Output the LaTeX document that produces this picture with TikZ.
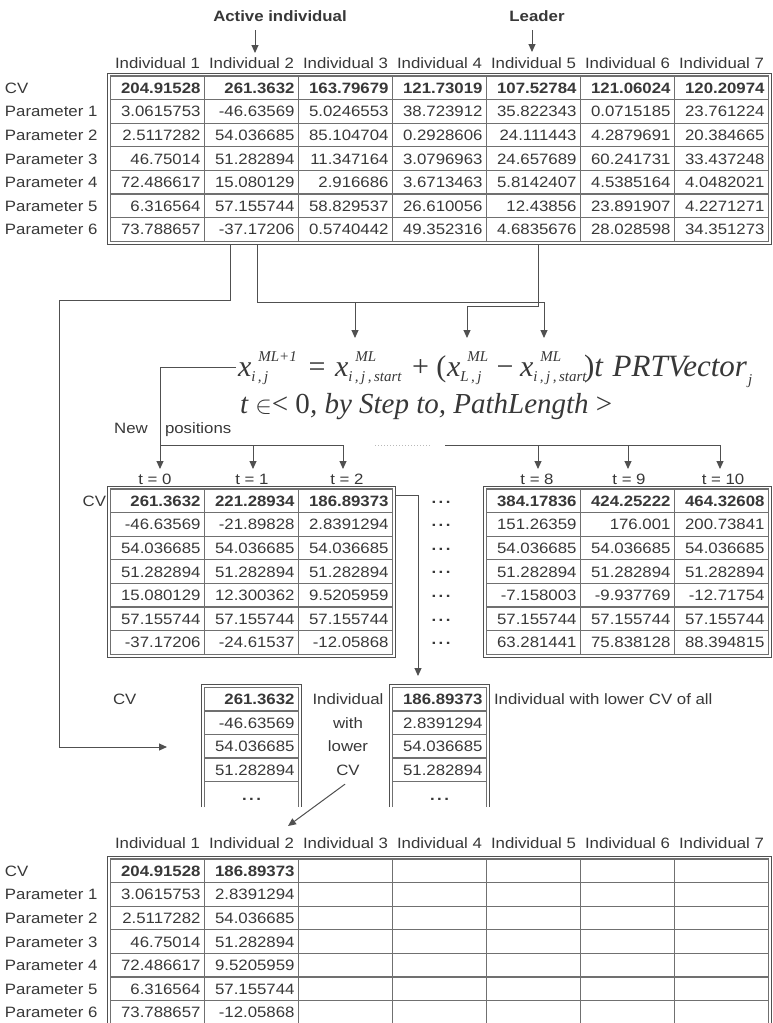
\documentclass[tikz,border=0pt]{standalone}
\usepackage{fontspec}
\setmainfont{Liberation Sans}[FakeStretch=1.12]
\newfontfamily\fserif{Liberation Serif}
\usetikzlibrary{arrows.meta}
\definecolor{tx}{HTML}{383838}
\definecolor{ln}{HTML}{505050}
\definecolor{gl}{HTML}{707070}
\tikzset{
  lbl/.style={inner sep=0pt, outer sep=0pt, text=tx, font=\fontsize{15}{17}\selectfont},
  val/.style={lbl, anchor=base east},
  ttl/.style={lbl, font=\fontsize{15}{17}\selectfont\bfseries, anchor=base},
  fml/.style={inner sep=0pt, outer sep=0pt, text=tx, font=\fontsize{30}{32}\selectfont\fserif\itshape},
  conn/.style={draw=ln, line width=1pt},
  arr/.style={conn, -{Triangle[length=8pt,width=7pt]}},
  tframe/.style={draw=ln, line width=1pt},
  tgrid/.style={draw=gl, line width=1.1pt},
}
\newcommand\scr[1]{{\fontsize{15}{16}\selectfont #1}}
\newcommand\xvar[3]{x\rlap{\raisebox{15pt}{\kern#1\scr{#2}}}\raisebox{-5pt}{\scr{#3}}}
\newcommand\dotsx{\bfseries.\kern2.5pt.\kern2.5pt.}
\newcommand\tableframe[6]{%
  \draw[tframe] ({#1-3},{#2-3}) rectangle ({#1+#3*#5+3},{#2+#4*#6+3});
  \draw[tgrid] (#1,#2) rectangle ({#1+#3*#5},{#2+#4*#6});
  \foreach \kk in {2,...,#3}{\draw[tgrid] ({#1+(\kk-1)*#5},#2) -- ({#1+(\kk-1)*#5},{#2+#4*#6});}
  \foreach \kk in {2,...,#4}{\draw[tgrid] (#1,{#2+(\kk-1)*#6}) -- ({#1+#3*#5},{#2+(\kk-1)*#6});}
}
\newcommand\filltable[5]{%
  \foreach \vals [count=\rr from 0] in {#5}{%
    \foreach \vv [count=\cc from 1] in \vals{%
      \node[val] (#1-\rr-\cc) at ({#2+#4*\cc-4},{#3+23.6*\rr+17.2}) {\ifnum\rr=0 \bfseries\fi\vv};
    }}}
\newcommand\rowlabels[2]{%
  \foreach \rr in {0,...,6}{\node[lbl, anchor=base west] (#1-\rr) at (5,{#2+23.6*\rr+17.2}) {\ifnum\rr=0 CV\else Parameter \rr\fi};}}
\newcommand\headers[2]{%
  \foreach \kk in {1,...,7}{\node[lbl, anchor=base] (#1-\kk) at ({110.5+94*\kk-47},#2) {Individual \kk};}}
\newcommand\smalltable[2]{%
  \draw[tframe] ({#1-3},807) |- ({#1+97},{#2-3}) -- ({#1+97},807);
  \draw[tgrid] (#1,807) |- ({#1+94},#2) -- ({#1+94},807);
  \foreach \kk in {1,...,4}{\draw[tgrid] (#1,{#2+\kk*23.5}) -- ({#1+94},{#2+\kk*23.5});}
}
\begin{document}
\begin{tikzpicture}[x=1pt,y=-1pt]
\useasboundingbox (0,0) rectangle (773,1023);
\fill[white] (0,0) rectangle (773,1023);

% ---------- top table ----------
\node[ttl] (tact) at (280,21) {Active individual};
\node[ttl] (tlead) at (537,21) {Leader};
\coordinate (actend) at (255,53);
\coordinate (leadend) at (532,52);
\draw[arr] (actend |- tact.south) ++(0,9) -- (actend);
\draw[arr] (leadend |- tlead.south) ++(0,9) -- (leadend);

\headers{th}{68}
\rowlabels{tl}{76}
\tableframe{110.5}{76}{7}{7}{94}{23.6}
\filltable{top}{110.5}{76}{94}{%
 {204.91528,261.3632,163.79679,121.73019,107.52784,121.06024,120.20974},
 {3.0615753,-46.63569,5.0246553,38.723912,35.822343,0.0715185,23.761224},
 {2.5117282,54.036685,85.104704,0.2928606,24.111443,4.2879691,20.384665},
 {46.75014,51.282894,11.347164,3.0796963,24.657689,60.241731,33.437248},
 {72.486617,15.080129,2.916686,3.6713463,5.8142407,4.5385164,4.0482021},
 {6.316564,57.155744,58.829537,26.610056,12.43856,23.891907,4.2271271},
 {73.788657,-37.17206,0.5740442,49.352316,4.6835676,28.028598,34.351273}}

% ---------- formula ----------
\node[fml, anchor=base west] (fx1) at (238,376) {\xvar{7pt}{ML+1}{i\,,\,j}};
\node[fml, anchor=base] (feq) at (317,376) {\upshape =};
\node[fml, anchor=base west] (fx2) at (335,376) {\xvar{7pt}{ML}{i\,,\,j\,,\,start}};
\node[fml, anchor=base west] (fplus) at (412,376) {\upshape + (};
\node[fml, anchor=base west] (fx3) at (447,376) {\xvar{7pt}{ML}{L\,,\,j}};
\node[fml, anchor=base] (fminus) at (505,376) {\upshape −};
\node[fml, anchor=base west] (fx4) at (520,376) {\xvar{7pt}{ML}{i\,,\,j\,,\,start}};
\node[fml, anchor=base west, font=\fontsize{31}{32}\selectfont\fserif\itshape] (frest) at (584,376) {\upshape)\itshape t\kern2pt{} PRTVector\kern1pt\raisebox{-8pt}{\scr{j}}};
\node[fml, anchor=base west, font=\fontsize{29}{32}\selectfont\fserif\itshape] (ft) at (240,413) {t {\upshape$\in${<} 0}, by Step to, PathLength {\upshape >}};

% connectors from top table to formula
\coordinate (A0) at (230,244.2);
\coordinate (B0) at (257,244.2);
\coordinate (C0) at (538,244.2);
\coordinate (Ab) at (59,300);
\coordinate (Bb) at (544,302);
\coordinate (Bm) at (355,302);
\coordinate (Cb) at (467,306);
\coordinate (fx2top) at (355,338);
\coordinate (fx3top) at (467,338);
\coordinate (fx4top) at (544,338);
\coordinate (Aend) at (167,747);
\draw[arr] (A0) |- (Ab) |- (Aend);
\draw[arr] (B0) |- (Bb) -- (fx4top);
\draw[arr] (Bm) -- (fx2top);
\draw[arr] (C0) |- (Cb) -- (fx3top);

% new positions
\node[lbl, anchor=base] (lnew) at (131,433) {New};
\node[lbl, anchor=base west] (lpos) at (165,433) {positions};
\coordinate (n0) at (160,469);
\coordinate (n1) at (253,469);
\coordinate (n2) at (343,469);
\coordinate (nbar) at (343,445);
\draw[arr] ([xshift=-2pt]fx1.west |- 0,367) -| (n0);
\draw[conn] (n0 |- nbar) -- (nbar);
\draw[arr] (n1 |- nbar) -- (n1);
\draw[arr] (nbar) -- (n2);
\coordinate (d0) at (375,445);
\coordinate (d1) at (430,445);
\draw[gray!55, dotted, line width=1pt] (d0) -- (d1);
\coordinate (m0) at (445,445);
\coordinate (n8) at (538,469);
\coordinate (n9) at (628,469);
\coordinate (n10) at (720,469);
\draw[arr] (m0) -| (n10);
\draw[arr] (n8 |- m0) -- (n8);
\draw[arr] (n9 |- m0) -- (n9);
\node[lbl, anchor=base] (t0) at (155,484) {t = 0};
\node[lbl, anchor=base] (t1) at (252,484) {t = 1};
\node[lbl, anchor=base] (t2) at (347,484) {t = 2};
\node[lbl, anchor=base] (t8) at (537,484) {t = 8};
\node[lbl, anchor=base] (t9) at (629,484) {t = 9};
\node[lbl, anchor=base] (t10) at (723,484) {t = 10};

% ---------- middle tables ----------
\node[lbl, anchor=base east] (mcv) at (106,506.2) {CV};
\tableframe{110.5}{489}{3}{7}{94}{23.6}
\filltable{ml}{110.5}{489}{94}{%
 {261.3632,221.28934,186.89373},
 {-46.63569,-21.89828,2.8391294},
 {54.036685,54.036685,54.036685},
 {51.282894,51.282894,51.282894},
 {15.080129,12.300362,9.5205959},
 {57.155744,57.155744,57.155744},
 {-37.17206,-24.61537,-12.05868}}
\foreach \rr in {0,...,6}{\node[lbl, anchor=base] (mdots-\rr) at (441,{489+23.6*\rr+14}) {\dotsx};}
\tableframe{486.5}{489}{3}{7}{94}{23.6}
\filltable{mr}{486.5}{489}{94}{%
 {384.17836,424.25222,464.32608},
 {151.26359,176.001,200.73841},
 {54.036685,54.036685,54.036685},
 {51.282894,51.282894,51.282894},
 {-7.158003,-9.937769,-12.71754},
 {57.155744,57.155744,57.155744},
 {63.281441,75.838128,88.394815}}

% arrow to best individual
\coordinate (D0) at (395.5,495.5);
\coordinate (Dend) at (418,676);
\draw[arr] (D0) -| (Dend);

% ---------- small tables ----------
\node[lbl, anchor=base west] (scv) at (113,704.5) {CV};
\smalltable{204.5}{687.5}
\smalltable{392.5}{687.5}
\foreach \vv [count=\rr from 0] in {261.3632,-46.63569,54.036685,51.282894}{%
  \node[val] (s1-\rr) at (294.5,{687.5+23.5*\rr+17.2}) {\ifnum\rr=0 \bfseries\fi\vv};}
\foreach \vv [count=\rr from 0] in {186.89373,2.8391294,54.036685,51.282894}{%
  \node[val] (s2-\rr) at (482.5,{687.5+23.5*\rr+17.2}) {\ifnum\rr=0 \bfseries\fi\vv};}
\node[lbl, anchor=base] (s1dots) at (251.5,800) {\dotsx};
\node[lbl, anchor=base] (s2dots) at (439.5,800) {\dotsx};
\node[lbl, anchor=base] (wl1) at (348,704.5) {Individual};
\node[lbl, anchor=base] (wl2) at (348,728) {with};
\node[lbl, anchor=base] (wl3) at (348,751.5) {lower};
\node[lbl, anchor=base] (wl4) at (348,775) {CV};
\node[lbl, anchor=base west] (wall) at (494,704.5) {Individual with lower CV of all};
\coordinate (Eend) at (288,826);
\draw[arr] ([shift={(-3pt,-9pt)}]wl4.south) -- (Eend);

% ---------- bottom table ----------
\headers{bh}{848}
\rowlabels{bl}{859}
\tableframe{110.5}{859}{7}{7}{94}{23.6}
\filltable{bot}{110.5}{859}{94}{%
 {204.91528,186.89373},
 {3.0615753,2.8391294},
 {2.5117282,54.036685},
 {46.75014,51.282894},
 {72.486617,9.5205959},
 {6.316564,57.155744},
 {73.788657,-12.05868}}
\end{tikzpicture}
\end{document}
